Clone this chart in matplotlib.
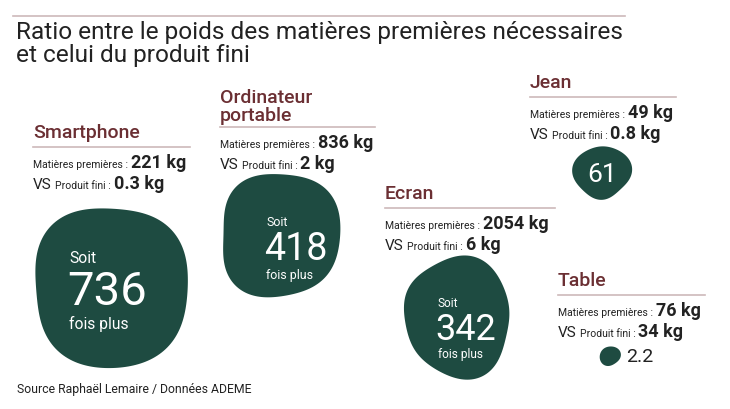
import numpy as np
import matplotlib.pyplot as plt
from matplotlib.patches import Polygon

plt.rcParams['font.family'] = ['Roboto', 'DejaVu Sans']

# data
products = ["Smartphone", "Ordinateur\nportable", "Ecran", "Jean", "Table"]
raw_kg = ["221", "836", "2054", "49", "76"]
final_kg = ["0.3", "2", "6", "0.8", "34"]
ratios = [736, 418, 342, 61, 2.2]
ratio_labels = ["736", "418", "342", "61", "2.2"]

title = "Ratio entre le poids des matières premières nécessaires\net celui du produit fini"
source = "Source Raphaël Lemaire / Données ADEME"

# layout (pixels)
label_x = [33, 220, 385, 530, 558]
label_y = [133, 107, 194, 83, 281]      # centre of the product title block
rule_w = [157, 155, 170, 146, 147]
blob_xy = [(111, 288), (280, 236), (458, 318), (602, 173), (610, 357)]
num_off = [(-4, 0), (16, 10), (8, 8), (0, 0), (0, 0)]
num_size = [34, 27, 26, 19, 14]
blob_shape = [
    [(2, 0.025, np.pi + 0.3), (3, 0.02, 1.0), (4, 0.035, np.pi)],
    [(2, 0.03, 2.4), (3, 0.03, 0.2), (4, 0.04, np.pi)],
    [(2, 0.08, np.pi + 0.2), (3, 0.04, 2.8), (5, 0.02, 0.4)],
    [(2, 0.06, 0.3), (3, 0.04, 1.5), (4, 0.03, 0.0)],
    [(2, 0.08, 1.0), (3, 0.03, 0.5)],
]

GREEN = "#1e4b41"
BROWN = "#6b2f33"
RULE = "#cdb9ba"
DARK = "#222222"

fig = plt.figure(figsize=(7.3, 4.1), dpi=100)
ax = fig.add_axes([0, 0, 1, 1])
ax.set_xlim(0, 730)
ax.set_ylim(410, 0)
ax.axis("off")
renderer = fig.canvas.get_renderer()


def text_run(x, y, parts):
    # parts: (text, size, weight); placed side by side on one baseline
    for txt, size, weight in parts:
        t = ax.text(x, y, txt, fontsize=size, fontweight=weight, color=DARK,
                    va="baseline", ha="left")
        x += t.get_window_extent(renderer).width + 3


def blob(cx, cy, r, shape):
    th = np.linspace(0, 2 * np.pi, 200)
    rr = np.ones_like(th)
    for k, a, p in shape:
        rr += a * np.cos(k * th + p)
    pts = np.column_stack([cx + r * rr * np.cos(th), cy + r * rr * np.sin(th)])
    ax.add_patch(Polygon(pts, closed=True, facecolor=GREEN, edgecolor="none"))


# header
ax.plot([13, 625], [17, 17], color=RULE, lw=1.2)
ax.text(16, 21, title, fontsize=17.6, color=DARK, va="top", ha="left",
        linespacing=1.0)
ax.text(17, 390, source, fontsize=8.8, color=DARK, va="center", ha="left")

for i, name in enumerate(products):
    x, y = label_x[i], label_y[i]
    ax.text(x, y, name, fontsize=14, fontweight="medium", color=BROWN,
            va="center", ha="left", linespacing=0.95)
    ry = y + 15 if "\n" not in name else y + 21
    ax.plot([x, x + rule_w[i]], [ry, ry], color=RULE, lw=1.2)
    text_run(x, ry + 20, [("Matières premières :", 7.5, "normal"),
                          (f"{raw_kg[i]} kg", 13, "bold")])
    text_run(x, ry + 41, [("VS", 11, "normal"),
                          ("Produit fini :", 7.5, "normal"),
                          (f"{final_kg[i]} kg", 13, "bold")])

    # blob area follows the ratio
    r = 2.75 * np.sqrt(ratios[i]) + 6
    cx, cy = blob_xy[i]
    blob(cx, cy, r, blob_shape[i])

    nx, ny = cx + num_off[i][0], cy + num_off[i][1]
    s = num_size[i]
    if ratios[i] > 100:
        t = ax.text(nx, ny, ratio_labels[i], fontsize=s, color="white",
                    va="center_baseline", ha="center")
        bb = t.get_window_extent(renderer)
        left = bb.x0 + 2
        small = s * 0.33
        ax.text(left, ny - 0.52 * s * 1.39, "Soit", fontsize=small,
                color="white", va="baseline", ha="left")
        ax.text(left, ny + 0.52 * s * 1.39 + small * 1.25 + 2, "fois plus",
                fontsize=small, color="white", va="baseline", ha="left")
    elif ratios[i] > 10:
        ax.text(nx, ny, ratio_labels[i], fontsize=s, color="white",
                va="center_baseline", ha="center")
    else:
        ax.text(cx + r + 6, cy, ratio_labels[i], fontsize=s, color=DARK,
                va="center", ha="left")

fig.savefig("out.png", dpi=100)
